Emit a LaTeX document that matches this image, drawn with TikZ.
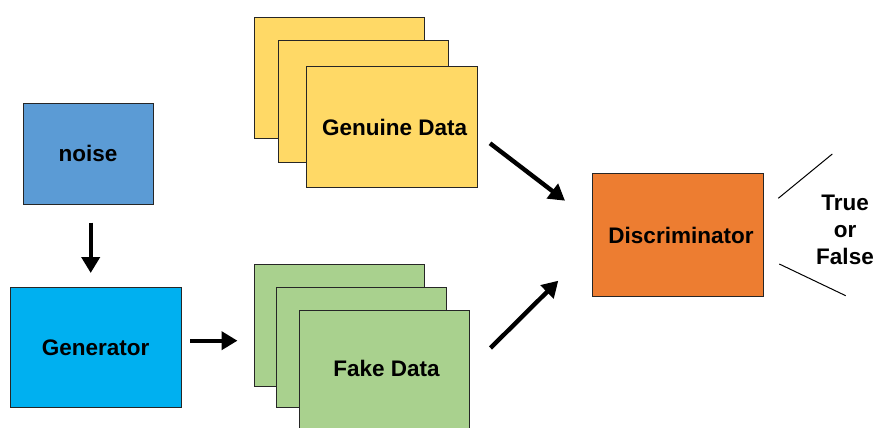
\documentclass[tikz,border=0pt]{standalone}
\usepackage{fontspec}
\setmainfont{Liberation Sans}
\usetikzlibrary{arrows.meta}
\definecolor{noiseblue}{HTML}{5B9BD5}
\definecolor{genblue}{HTML}{00B0F0}
\definecolor{genuine}{HTML}{FFD966}
\definecolor{fake}{HTML}{A9D18E}
\definecolor{disc}{HTML}{ED7D31}
\tikzset{
  txt/.style={font=\fontsize{22.5}{27}\selectfont\bfseries},
  box/.style={draw=black!85, line width=0.9pt, anchor=north west, inner sep=0pt, txt},
  bigarrow/.style={line width=4.4pt, -{Triangle[length=16pt,width=18pt]}},
  thinline/.style={line width=1pt},
}
\begin{document}
\begin{tikzpicture}[x=1pt,y=-1pt]
\useasboundingbox (0,0) rectangle (878,428);
% noise and generator
\node[box, fill=noiseblue, minimum width=130pt, minimum height=101pt] (noise) at (22.5,102.8) {noise};
\node[box, fill=genblue, minimum width=170.5pt, minimum height=120.5pt] (gen) at (10,286.8) {Generator};
% genuine stack
\node[box, fill=genuine, minimum width=170pt, minimum height=121pt] (g1) at (253.5,17.3) {};
\node[box, fill=genuine, minimum width=170.5pt, minimum height=122pt] (g2) at (277.8,40.3) {};
\node[box, fill=genuine, minimum width=170.5pt, minimum height=121.3pt] (g3) at (306,66) {\hspace*{6pt}Genuine Data};
% fake stack
\node[box, fill=fake, minimum width=170pt, minimum height=122.5pt] (f1) at (253.5,263.5) {};
\node[box, fill=fake, minimum width=170.3pt, minimum height=120pt] (f2) at (275.8,286.8) {};
\node[box, fill=fake, minimum width=170pt, minimum height=121pt] (f3) at (299,310) {};
\node[txt] (ftext) at (386.5,368) {Fake Data};
% discriminator
\node[box, fill=disc, minimum width=170.3pt, minimum height=122.7pt] (disc) at (592.4,173.4) {\hspace*{6pt}Discriminator};
% output text
\node[txt, align=center, inner sep=0pt] (tf) at (845,230) {True\\or\\False};
% arrows
\coordinate (a1s) at (90.7,222.5);
\coordinate (a1e) at (90.7,273);
\draw[bigarrow] (a1s) -- (a1e);
\coordinate (a2s) at (190,340.7);
\coordinate (a2e) at (237.5,340.7);
\draw[bigarrow] (a2s) -- (a2e);
\coordinate (a3s) at (490,143.3);
\coordinate (a3e) at (565,200.7);
\draw[bigarrow] (a3s) -- (a3e);
\coordinate (a4s) at (490.5,348);
\coordinate (a4e) at (558.3,280.7);
\draw[bigarrow] (a4s) -- (a4e);
% output lines
\coordinate (l1a) at (778.3,198.3);
\coordinate (l1b) at (832.3,154);
\draw[thinline] (l1a) -- (l1b);
\coordinate (l2a) at (779.3,264);
\coordinate (l2b) at (845.7,295.7);
\draw[thinline] (l2a) -- (l2b);
\end{tikzpicture}
\end{document}
